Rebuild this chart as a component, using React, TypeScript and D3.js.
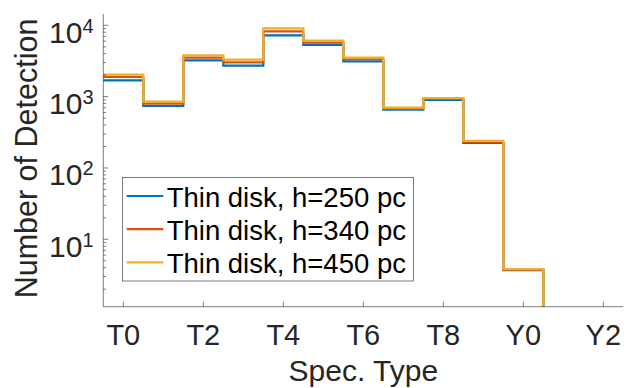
import React, { useEffect, useRef } from 'react';
import * as d3 from 'd3';

// spectral types T0..Y0 (the histogram bins), axis ticks every 2 types
const specTypes = ['T0', 'T1', 'T2', 'T3', 'T4', 'T5', 'T6', 'T7', 'T8', 'T9', 'Y0'];
const xTickLabels = ['T0', 'T2', 'T4', 'T6', 'T8', 'Y0', 'Y2'];
const h250 = [1694, 739, 3230, 2715, 7240, 5300, 3130, 656, 897, 224, 3.7];
const h340 = [1885, 796, 3515, 3030, 8240, 5700, 3340, 678, 927, 231, 3.75];
const h450 = [2030, 849, 3800, 3295, 9080, 6080, 3515, 700, 957, 239, 3.8];
const seriesNames = ['Thin disk, h=250 pc', 'Thin disk, h=340 pc', 'Thin disk, h=450 pc'];
const yTickExps = [1, 2, 3, 4];

const App = () => {
  const chartRef = useRef(null);

  useEffect(() => {
    const width = 624;
    const height = 388;
    const font = '"Liberation Sans", Arial, Helvetica, sans-serif';
    const axisColor = '#262626';
    const colors = ['#0072BD', '#D95319', '#EDB120'];
    const series = [h250, h340, h450];

    const svg = d3.select(chartRef.current)
      .append('svg')
      .attr('width', width)
      .attr('height', height)
      .style('position', 'absolute')
      .style('left', 0)
      .style('top', 0)
      .style('background', '#fff');

    const xScale = d3.scaleLinear().domain([-0.5, 12.5]).range([103.3, 623.3]);
    const yScale = d3.scaleLog().domain([1.135, 14400]).range([306.7, 14]);
    const yBottom = yScale.range()[0];

    // step lines
    series.forEach((vals, s) => {
      const pts = vals.map((v, i) => [i - 0.5, v]);
      pts.push([vals.length - 0.5, vals[vals.length - 1]]);
      const path = d3.line()
        .x((d) => xScale(d[0]))
        .y((d) => yScale(d[1]))
        .curve(d3.curveStepAfter)(pts);
      const endX = xScale(vals.length - 0.5);
      svg.append('path')
        .attr('d', path + `L${endX},${yBottom}`)
        .attr('fill', 'none')
        .attr('stroke', colors[s])
        .attr('stroke-width', 2.2);
    });

    // axes lines (box off)
    svg.append('line')
      .attr('x1', xScale(-0.5)).attr('x2', xScale(-0.5))
      .attr('y1', yScale.range()[1]).attr('y2', yBottom)
      .attr('stroke', axisColor).attr('stroke-width', 0.6);
    svg.append('line')
      .attr('x1', xScale(-0.5)).attr('x2', xScale(12.5))
      .attr('y1', yBottom).attr('y2', yBottom)
      .attr('stroke', axisColor).attr('stroke-width', 0.6);

    // x ticks
    xTickLabels.forEach((lab, i) => {
      const x = xScale(i * 2);
      svg.append('line')
        .attr('x1', x).attr('x2', x)
        .attr('y1', yBottom).attr('y2', yBottom - 5)
        .attr('stroke', axisColor).attr('stroke-width', 0.6);
      svg.append('text')
        .attr('x', x)
        .attr('y', 345)
        .attr('text-anchor', 'middle')
        .attr('font-family', font)
        .attr('font-size', 29)
        .attr('fill', axisColor)
        .text(lab);
    });

    // y ticks, major + minor
    const x0 = xScale(-0.5);
    for (let e = 0; e <= 4; e++) {
      for (let m = 1; m <= 9; m++) {
        const v = m * Math.pow(10, e);
        if (v < yScale.domain()[0] || v > yScale.domain()[1]) continue;
        const y = yScale(v);
        svg.append('line')
          .attr('x1', x0).attr('x2', x0 + (m === 1 ? 5 : 2.8))
          .attr('y1', y).attr('y2', y)
          .attr('stroke', axisColor).attr('stroke-width', 0.6);
      }
    }
    yTickExps.forEach((e) => {
      const y = yScale(Math.pow(10, e));
      const t = svg.append('text')
        .attr('x', 93.5)
        .attr('y', y + 17.4)
        .attr('text-anchor', 'end')
        .attr('font-family', font)
        .attr('font-size', 30)
        .attr('fill', axisColor);
      t.append('tspan').text('10');
      t.append('tspan')
        .attr('dy', -10)
        .attr('font-size', 20)
        .text(e);
    });

    // axis titles
    svg.append('text')
      .attr('x', 363.3)
      .attr('y', 381)
      .attr('text-anchor', 'middle')
      .attr('font-family', font)
      .attr('font-size', 30)
      .attr('fill', axisColor)
      .text('Spec. Type');
    svg.append('text')
      .attr('transform', 'translate(37.3,158.5) rotate(-90)')
      .attr('text-anchor', 'middle')
      .attr('font-family', font)
      .attr('font-size', 30.5)
      .attr('fill', axisColor)
      .text('Number of Detection');

    // legend
    const legend = svg.append('g');
    legend.append('rect')
      .attr('x', 122.3).attr('y', 177.3)
      .attr('width', 291).attr('height', 103.7)
      .attr('fill', '#fff')
      .attr('stroke', axisColor)
      .attr('stroke-width', 0.6);
    seriesNames.forEach((name, i) => {
      const ly = 196 + i * 33.2;
      legend.append('line')
        .attr('x1', 126.7).attr('x2', 163.3)
        .attr('y1', ly).attr('y2', ly)
        .attr('stroke', colors[i])
        .attr('stroke-width', 2.2);
      legend.append('text')
        .attr('x', 166.7)
        .attr('y', ly + 10.5)
        .attr('font-family', font)
        .attr('font-size', 27.5)
        .attr('fill', '#000')
        .text(name);
    });

    return () => {
      d3.select(chartRef.current).selectAll('svg').remove();
    };
  }, []);

  return <div ref={chartRef} />;
};

export default App;
